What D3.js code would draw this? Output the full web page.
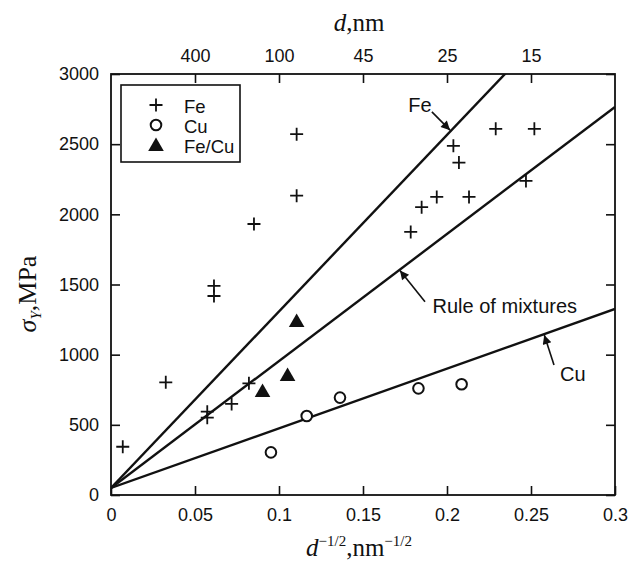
<!DOCTYPE html>
<html>
<head>
<meta charset="utf-8">
<script src="https://cdn.jsdelivr.net/npm/d3@7"></script>
<style>
  body { margin: 0; background: #fff; }
  svg text { fill: #111; }
</style>
</head>
<body>
<div id="chart"></div>
<script>
// grain size strengthening data
var feData = [
  [0.0070, 344], [0.0326, 803], [0.0613, 1490], [0.0613, 1418],
  [0.0573, 594], [0.0573, 551], [0.0718, 649], [0.0821, 796],
  [0.0851, 1931], [0.1105, 2571], [0.1105, 2133],
  [0.1784, 1875], [0.1849, 2051], [0.1939, 2124], [0.2131, 2124],
  [0.2038, 2488], [0.2071, 2369], [0.2290, 2609], [0.2520, 2609],
  [0.2470, 2238]
];
var cuData = [
  [0.0952, 304], [0.1165, 563], [0.1363, 694], [0.1830, 760], [0.2087, 789]
];
var fecuData = [
  [0.0902, 741], [0.1051, 855], [0.1105, 1240]
];

// fitted lines, endpoints in data units
var feLine = [[0, 50], [0.3, 3824]];
var mixLine = [[0, 50], [0.3, 2765]];
var cuLine = [[0, 50], [0.3, 1326]];

var xTicks = [0, 0.05, 0.1, 0.15, 0.2, 0.25, 0.3];
var xTickLabels = ["0", "0.05", "0.1", "0.15", "0.2", "0.25", "0.3"];
var topTicks = [0.05, 0.1, 0.15, 0.2, 0.25];
var topTickLabels = ["400", "100", "45", "25", "15"];
var yTicks = [0, 500, 1000, 1500, 2000, 2500, 3000];

// annotation: label anchor, arrow tail, arrow tip (data units)
var notes = [
  { text: "Fe", tx: 0.1839, ty: 2779, anchor: "middle", ax: 0.191, ay: 2730, bx: 0.2018, by: 2600 },
  { text: "Rule of mixtures", tx: 0.1914, ty: 1347, anchor: "start", ax: 0.1869, ay: 1377, bx: 0.1720, by: 1600 },
  { text: "Cu", tx: 0.2673, ty: 862, anchor: "start", ax: 0.2637, ay: 926, bx: 0.2579, by: 1140 }
];

var legendItems = ["Fe", "Cu", "Fe/Cu"];

var width = 639, height = 562;
var plotL = 111, plotR = 615, plotT = 74, plotB = 495;

var x = d3.scaleLinear().domain([0, 0.3]).range([plotL, plotR]);
var y = d3.scaleLinear().domain([0, 3000]).range([plotB, plotT]);

var svg = d3.select("#chart").append("svg")
  .attr("width", width)
  .attr("height", height);

var sans = "'Liberation Sans', Arial, Helvetica, sans-serif";
var serif = "'Liberation Serif', 'Times New Roman', serif";

var defs = svg.append("defs");
defs.append("clipPath").attr("id", "plotclip")
  .append("rect")
  .attr("x", plotL).attr("y", plotT)
  .attr("width", plotR - plotL).attr("height", plotB - plotT);

defs.append("marker")
  .attr("id", "arrow")
  .attr("viewBox", "0 0 10 10")
  .attr("refX", 10).attr("refY", 5)
  .attr("markerWidth", 12).attr("markerHeight", 9)
  .attr("markerUnits", "userSpaceOnUse")
  .attr("orient", "auto")
  .append("path")
  .attr("d", "M0,0L10,5L0,10Z")
  .attr("fill", "#111");

// ---- axes ----
var bottomAxis = d3.axisBottom(x)
  .tickValues(xTicks)
  .tickFormat(function(d, i) { return xTickLabels[i]; })
  .tickSize(-9).tickPadding(13);
var topAxis = d3.axisTop(x)
  .tickValues(topTicks)
  .tickFormat(function(d, i) { return topTickLabels[i]; })
  .tickSize(-9).tickPadding(12);
var leftAxis = d3.axisLeft(y)
  .tickValues(yTicks)
  .tickFormat(d3.format("d"))
  .tickSize(-9).tickPadding(12);
var rightAxis = d3.axisRight(y)
  .tickValues(yTicks)
  .tickSize(-9)
  .tickFormat("");

function styleAxis(g) {
  g.select(".domain").remove();
  g.selectAll(".tick line").attr("stroke", "#111").attr("stroke-width", 1.6);
  g.selectAll(".tick text")
    .style("font-family", sans)
    .style("font-size", "18px")
    .attr("fill", "#111");
}

svg.append("g").attr("transform", "translate(0," + plotB + ")").call(bottomAxis).call(styleAxis);
svg.append("g").attr("transform", "translate(0," + plotT + ")").call(topAxis).call(styleAxis);
svg.append("g").attr("transform", "translate(" + plotL + ",0)").call(leftAxis).call(styleAxis);
svg.append("g").attr("transform", "translate(" + plotR + ",0)").call(rightAxis).call(styleAxis);

// frame
svg.append("rect")
  .attr("x", plotL).attr("y", plotT)
  .attr("width", plotR - plotL).attr("height", plotB - plotT)
  .attr("fill", "none")
  .attr("stroke", "#111")
  .attr("stroke-width", 1.8);

// ---- lines ----
var line = d3.line()
  .x(function(d) { return x(d[0]); })
  .y(function(d) { return y(d[1]); });

svg.append("g").attr("clip-path", "url(#plotclip)")
  .selectAll("path")
  .data([feLine, mixLine, cuLine])
  .enter()
  .append("path")
  .attr("d", line)
  .attr("fill", "none")
  .attr("stroke", "#111")
  .attr("stroke-width", 2.4);

// ---- markers ----
var crossPath = "M-6.5,0H6.5M0,-6.5V6.5";
var triPath = "M0,-7.5L7.8,6L-7.8,6Z";

svg.append("g").selectAll("path")
  .data(feData)
  .enter()
  .append("path")
  .attr("d", crossPath)
  .attr("transform", function(d) { return "translate(" + x(d[0]) + "," + y(d[1]) + ")"; })
  .attr("stroke", "#111")
  .attr("stroke-width", 1.8)
  .attr("fill", "none");

svg.append("g").selectAll("circle")
  .data(cuData)
  .enter()
  .append("circle")
  .attr("cx", function(d) { return x(d[0]); })
  .attr("cy", function(d) { return y(d[1]); })
  .attr("r", 5.3)
  .attr("fill", "#fff")
  .attr("stroke", "#111")
  .attr("stroke-width", 2);

svg.append("g").selectAll("path")
  .data(fecuData)
  .enter()
  .append("path")
  .attr("d", triPath)
  .attr("transform", function(d) { return "translate(" + x(d[0]) + "," + y(d[1]) + ")"; })
  .attr("fill", "#111");

// ---- annotations ----
var noteG = svg.append("g");
noteG.selectAll("line")
  .data(notes)
  .enter()
  .append("line")
  .attr("x1", function(d) { return x(d.ax); })
  .attr("y1", function(d) { return y(d.ay); })
  .attr("x2", function(d) { return x(d.bx); })
  .attr("y2", function(d) { return y(d.by); })
  .attr("stroke", "#111")
  .attr("stroke-width", 1.6)
  .attr("marker-end", "url(#arrow)");
noteG.selectAll("text")
  .data(notes)
  .enter()
  .append("text")
  .attr("x", function(d) { return x(d.tx); })
  .attr("y", function(d) { return y(d.ty); })
  .attr("dy", "0.35em")
  .attr("text-anchor", function(d) { return d.anchor; })
  .style("font-family", sans)
  .style("font-size", "20px")
  .text(function(d) { return d.text; });

// ---- legend ----
var legend = svg.append("g");
legend.append("rect")
  .attr("x", 121).attr("y", 85)
  .attr("width", 119).attr("height", 77)
  .attr("fill", "#fff")
  .attr("stroke", "#111")
  .attr("stroke-width", 1.6);

var rows = legend.selectAll("g.row")
  .data(legendItems)
  .enter()
  .append("g")
  .attr("class", "row")
  .attr("transform", function(d, i) { return "translate(156," + (105 + i * 20) + ")"; });

rows.each(function(d, i) {
  var g = d3.select(this);
  if (i === 0) {
    g.append("path").attr("d", crossPath).attr("stroke", "#111").attr("stroke-width", 1.8);
  } else if (i === 1) {
    g.append("circle").attr("r", 5.3).attr("fill", "#fff").attr("stroke", "#111").attr("stroke-width", 2);
  } else {
    g.append("path").attr("d", triPath).attr("fill", "#111");
  }
  g.append("text")
    .attr("x", 28)
    .attr("y", 2)
    .attr("dy", "0.35em")
    .style("font-family", sans)
    .style("font-size", "18.5px")
    .text(d);
});

// ---- axis titles ----
var topTitle = svg.append("text")
  .attr("x", 359)
  .attr("y", 31)
  .attr("text-anchor", "middle")
  .style("font-family", serif)
  .style("font-size", "25px");
topTitle.append("tspan").style("font-style", "italic").text("d");
topTitle.append("tspan").text(",nm");

var botTitle = svg.append("text")
  .attr("x", 359)
  .attr("y", 556)
  .attr("text-anchor", "middle")
  .style("font-family", serif)
  .style("font-size", "25px");
botTitle.append("tspan").style("font-style", "italic").text("d");
botTitle.append("tspan").attr("dy", -10).style("font-size", "15px").text("\u22121/2");
botTitle.append("tspan").attr("dy", 10).text(",nm");
botTitle.append("tspan").attr("dy", -10).style("font-size", "15px").text("\u22121/2");

var leftTitle = svg.append("text")
  .attr("transform", "translate(36," + 294 + ") rotate(-90)")
  .attr("text-anchor", "middle")
  .style("font-family", serif)
  .style("font-size", "26px");
leftTitle.append("tspan").style("font-style", "italic").text("\u03c3");
leftTitle.append("tspan").attr("dy", 5).style("font-style", "italic").style("font-size", "15px").text("Y");
leftTitle.append("tspan").attr("dy", -5).text(",MPa");
</script>
</body>
</html>
